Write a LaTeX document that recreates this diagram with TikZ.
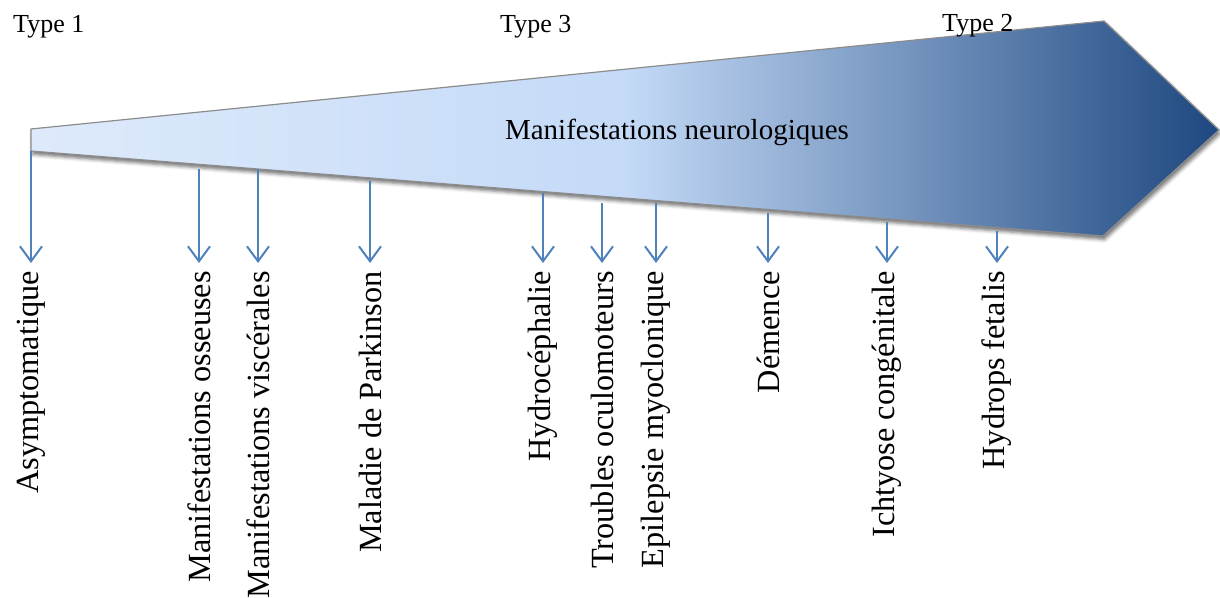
\documentclass[tikz,border=0pt]{standalone}
\usepackage{fontspec}
\setmainfont{Liberation Serif}
\usetikzlibrary{arrows.meta,shadows.blur}

\definecolor{arrblue}{RGB}{79,129,189}
\definecolor{paleblue}{RGB}{222,234,251}
\definecolor{midblue}{RGB}{196,218,247}
\definecolor{deepblue}{RGB}{30,72,128}
\definecolor{edgegray}{RGB}{140,140,140}

\tikzset{
  lab/.style={rotate=90,anchor=east,inner sep=0pt,font=\fontsize{32.3}{32.3}\selectfont},
  typelab/.style={anchor=base west,inner sep=0pt,font=\fontsize{26}{26}\selectfont},
  arr/.style={draw=arrblue,line width=2pt,-{Straight Barb[length=15pt,width=22pt,line width=2pt]},shorten >=8pt}
}

\begin{document}
\begin{tikzpicture}[x=1pt,y=-1pt]
                    \useasboundingbox (0,0) rectangle (1220,597);

                    % the wedge
                    \path[draw=edgegray,line width=1.2pt,
                          blur shadow={shadow xshift=1.5pt,shadow yshift=-3.5pt,shadow blur radius=3.5pt,shadow opacity=55},
                          left color=paleblue,right color=deepblue,middle color=midblue]
                         (31,129) -- (1104,21) -- (1219,130) -- (1103,236) -- (31,151) -- cycle;

                    \node[typelab] (T1) at (13,32) {Type 1};
                    \node[typelab] (T3) at (500,32) {Type 3};
                    \node[typelab] (T2) at (942,31) {Type 2};
                    \node[anchor=base,inner sep=0pt,font=\fontsize{29}{29}\selectfont] (neuro) at (677,139) {Manifestations neurologiques};

                    % start points under the wedge
                    \coordinate (s1) at (31,151);
                    \coordinate (s2) at (199,169);
                    \coordinate (s3) at (258,169);
                    \coordinate (s4) at (370,181);
                    \coordinate (s5) at (543,193);
                    \coordinate (s6) at (602,203);
                    \coordinate (s7) at (656,203);
                    \coordinate (s8) at (768,213);
                    \coordinate (s9) at (887,222);
                    \coordinate (s10) at (997,231);

                    \node[lab] (asym) at (31,271) {Asymptomatique};
                    \node[lab] (oss) at (199,271) {Manifestations osseuses};
                    \node[lab] (visc) at (258,271) {Manifestations viscérales};
                    \node[lab] (park) at (370,271) {Maladie de Parkinson};
                    \node[lab] (hydro) at (543,271) {Hydrocéphalie};
                    \node[lab] (ocul) at (602,271) {Troubles oculomoteurs};
                    \node[lab] (epil) at (656,271) {Epilepsie myoclonique};
                    \node[lab] (dem) at (768,271) {Démence};
                    \node[lab] (icht) at (887,271) {Ichtyose congénitale};
                    \node[lab] (fet) at (997,271) {Hydrops fetalis};

                    \draw[arr] (s1) -- (asym.east);
                    \draw[arr] (s2) -- (oss.east);
                    \draw[arr] (s3) -- (visc.east);
                    \draw[arr] (s4) -- (park.east);
                    \draw[arr] (s5) -- (hydro.east);
                    \draw[arr] (s6) -- (ocul.east);
                    \draw[arr] (s7) -- (epil.east);
                    \draw[arr] (s8) -- (dem.east);
                    \draw[arr] (s9) -- (icht.east);
                    \draw[arr] (s10) -- (fet.east);
                \end{tikzpicture}
\end{document}
